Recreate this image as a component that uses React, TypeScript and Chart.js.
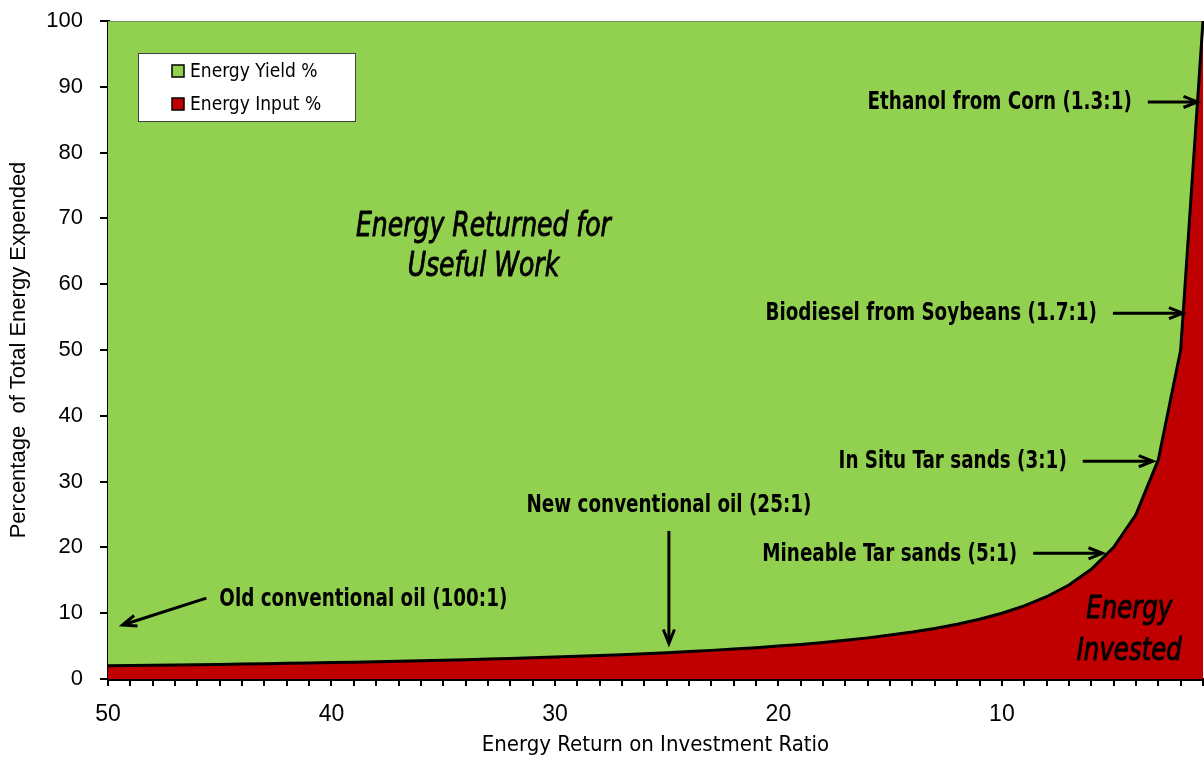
import React, { useEffect, useRef } from "react";
import { Chart, registerables } from "chart.js";

Chart.register(...registerables);

// ---- Data ----
const eroeiRatios = [50, 49, 48, 47, 46, 45, 44, 43, 42, 41, 40, 39, 38, 37, 36, 35, 34, 33, 32, 31, 30, 29, 28, 27, 26, 25, 24, 23, 22, 21, 20, 19, 18, 17, 16, 15, 14, 13, 12, 11, 10, 9, 8, 7, 6, 5, 4, 3, 2, 1];
const energyInputPct = [2, 2.04, 2.08, 2.13, 2.17, 2.22, 2.27, 2.33, 2.38, 2.44, 2.5, 2.56, 2.63, 2.7, 2.78, 2.86, 2.94, 3.03, 3.13, 3.23, 3.33, 3.45, 3.57, 3.7, 3.85, 4, 4.17, 4.35, 4.55, 4.76, 5, 5.26, 5.56, 5.88, 6.25, 6.67, 7.14, 7.69, 8.33, 9.09, 10, 11.11, 12.5, 14.29, 16.67, 20, 25, 33.33, 50, 100];
const energyYieldPct = [98, 97.96, 97.92, 97.87, 97.83, 97.78, 97.73, 97.67, 97.62, 97.56, 97.5, 97.44, 97.37, 97.3, 97.22, 97.14, 97.06, 96.97, 96.87, 96.77, 96.67, 96.55, 96.43, 96.3, 96.15, 96, 95.83, 95.65, 95.45, 95.24, 95, 94.74, 94.44, 94.12, 93.75, 93.33, 92.86, 92.31, 91.67, 90.91, 90, 88.89, 87.5, 85.71, 83.33, 80, 75, 66.67, 50, 0];
const xTickLabels = [50, 40, 30, 20, 10];
const seriesNames = ["Energy Input %", "Energy Yield %"];
const legendOrder = ["Energy Yield %", "Energy Input %"];

// arrows: from (ERoEI, %) to (ERoEI, %)
const arrowNotes = [
  { text: "Old conventional oil (100:1)", from: [45.6, 12.3], to: [49.35, 8.2], side: "left" },
  { text: "New conventional oil (25:1)", from: [24.9, 22.5], to: [24.9, 5.4], side: "top" },
  { text: "Mineable Tar sands (5:1)", from: [8.6, 19.1], to: [5.5, 19.1], side: "right" },
  { text: "In Situ Tar sands (3:1)", from: [6.38, 33.1], to: [3.25, 33.1], side: "right" },
  { text: "Biodiesel from Soybeans (1.7:1)", from: [5.03, 55.6], to: [1.9, 55.6], side: "right" },
  { text: "Ethanol from Corn (1.3:1)", from: [3.47, 87.7], to: [1.25, 87.7], side: "right" },
];

const areaNotes = [
  { lines: ["Energy Returned for", "Useful Work"], at: [33.2, 68.6], lineGap: 40, size: 34, squeeze: 0.82 },
  { lines: ["Energy", "Invested"], at: [4.3, 10.6], lineGap: 42, size: 32, squeeze: 0.85 },
];

const GREEN = "#92D050";
const RED = "#C00000";
const COND = "'DejaVu Sans Condensed', 'Liberation Sans', sans-serif";
const SANS = "'Liberation Sans', Arial, sans-serif";

function fillSqueezed(ctx: CanvasRenderingContext2D, text: string, x: number, y: number, align: CanvasTextAlign, sx: number, strokeW = 0) {
  ctx.save();
  ctx.translate(x, y);
  ctx.scale(sx, 1);
  ctx.textAlign = align;
  ctx.fillText(text, 0, 0);
  if (strokeW > 0) {
    ctx.lineWidth = strokeW;
    ctx.strokeStyle = "#000";
    ctx.lineJoin = "round";
    ctx.strokeText(text, 0, 0);
  }
  ctx.restore();
}

const overlayPlugin = {
  id: "overlay",
  afterDatasetsDraw(chart: any) {
    const ctx = chart.ctx as CanvasRenderingContext2D;
    const xs = chart.scales.x;
    const ys = chart.scales.y;
    const px = (r: number) => xs.getPixelForValue(50 - r);
    const py = (v: number) => ys.getPixelForValue(v);

    ctx.save();
    // area notes
    ctx.fillStyle = "#000";
    ctx.textBaseline = "middle";
    areaNotes.forEach((n) => {
      ctx.font = `italic ${n.size}px ${COND}`;
      n.lines.forEach((l, k) => {
        fillSqueezed(ctx, l, px(n.at[0]), py(n.at[1]) + k * n.lineGap, "center", n.squeeze, 0.9);
      });
    });

    // arrows
    ctx.strokeStyle = "#000";
    ctx.lineWidth = 3;
    ctx.font = `bold 24px ${COND}`;
    const sq = 0.85;
    arrowNotes.forEach((a) => {
      const x1 = px(a.from[0]), y1 = py(a.from[1]);
      const x2 = px(a.to[0]), y2 = py(a.to[1]);
      ctx.beginPath();
      ctx.moveTo(x1, y1);
      ctx.lineTo(x2, y2);
      ctx.stroke();
      const ang = Math.atan2(y2 - y1, x2 - x1);
      const hl = 15, hw = 0.38;
      ctx.beginPath();
      ctx.moveTo(x2 - hl * Math.cos(ang - hw), y2 - hl * Math.sin(ang - hw));
      ctx.lineTo(x2, y2);
      ctx.lineTo(x2 - hl * Math.cos(ang + hw), y2 - hl * Math.sin(ang + hw));
      ctx.stroke();
      ctx.textBaseline = "middle";
      if (a.side === "right") {
        fillSqueezed(ctx, a.text, x1 - 16, y1 + 1, "right", sq);
      } else if (a.side === "left") {
        fillSqueezed(ctx, a.text, x1 + 13, y1 + 2, "left", sq);
      } else {
        fillSqueezed(ctx, a.text, x1, y1 - 25, "center", sq);
      }
    });

    // legend box
    const lx = 138, ly = 53, lw = 217, lh = 68;
    ctx.fillStyle = "#fff";
    ctx.fillRect(lx, ly, lw, lh);
    ctx.lineWidth = 1;
    ctx.strokeStyle = "#404040";
    ctx.strokeRect(lx + 0.5, ly + 0.5, lw, lh);
    ctx.font = `19px ${COND}`;
    ctx.textAlign = "left";
    ctx.textBaseline = "middle";
    legendOrder.forEach((name, i) => {
      const ds = chart.data.datasets.find((d: any) => d.label === name);
      const cy = ly + 18 + i * 33;
      ctx.fillStyle = ds.backgroundColor;
      ctx.fillRect(172, cy - 6, 12, 12);
      ctx.strokeStyle = "#000";
      ctx.lineWidth = 1.5;
      ctx.strokeRect(172, cy - 6, 12, 12);
      ctx.fillStyle = "#000";
      ctx.fillText(name, 190, cy + 1);
    });
    ctx.restore();
  },
};

export default function App() {
  const ref = useRef<HTMLCanvasElement>(null);
  useEffect(() => {
    if (!ref.current) return;
    const chart = new Chart(ref.current, {
      type: "line",
      data: {
        labels: eroeiRatios.map(String),
        datasets: [
          {
            label: seriesNames[0],
            data: energyInputPct,
            backgroundColor: RED,
            borderColor: "#000",
            borderWidth: 3,
            fill: "origin",
            pointRadius: 0,
            tension: 0,
            stack: "s",
          },
          {
            label: seriesNames[1],
            data: energyYieldPct,
            backgroundColor: GREEN,
            borderColor: "#555",
            borderWidth: 1,
            fill: "-1",
            pointRadius: 0,
            tension: 0,
            stack: "s",
          },
        ],
      },
      options: {
        responsive: false,
        animation: false,
        devicePixelRatio: 1,
        layout: { padding: { top: 21, right: 1, left: 0, bottom: 0 } },
        plugins: { legend: { display: false }, tooltip: { enabled: false } },
        scales: {
          x: {
            type: "category",
            offset: false,
            afterFit: (s: any) => { s.height = 82; s.paddingLeft = 0; s.paddingRight = 0; },
            grid: { display: true, drawOnChartArea: false, drawTicks: true, tickLength: 7, color: "#000", lineWidth: 2 },
            border: { display: true, color: "#000", width: 3 },
            ticks: {
              autoSkip: false,
              maxRotation: 0,
              padding: 15,
              color: "#000",
              font: { family: SANS, size: 23 },
              callback: (_v: any, i: number) => (xTickLabels.includes(eroeiRatios[i]) ? String(eroeiRatios[i]) : ""),
            },
            title: { display: true, text: "Energy Return on Investment Ratio", color: "#000", font: { family: COND, size: 22 }, padding: { top: 0, bottom: 3 } },
          },
          y: {
            stacked: true,
            min: 0,
            max: 100,
            afterFit: (s: any) => { s.width = 108; s.paddingTop = 0; s.paddingBottom = 0; },
            grid: { display: true, drawOnChartArea: false, drawTicks: true, tickLength: 8, color: "#000", lineWidth: 2 },
            border: { display: true, color: "#000", width: 3 },
            ticks: { stepSize: 10, padding: 17, color: "#000", font: { family: SANS, size: 22 } },
            title: { display: true, text: "Percentage  of Total Energy Expended", color: "#000", font: { family: SANS, size: 22 }, padding: { top: 6, bottom: 0 } },
          },
        },
      },
      plugins: [overlayPlugin],
    });
    return () => chart.destroy();
  }, []);
  return (
    <div style={{ position: "absolute", left: 0, top: 0, width: 1204, height: 761, background: "#fff" }}>
      <canvas ref={ref} width={1204} height={761} />
    </div>
  );
}
